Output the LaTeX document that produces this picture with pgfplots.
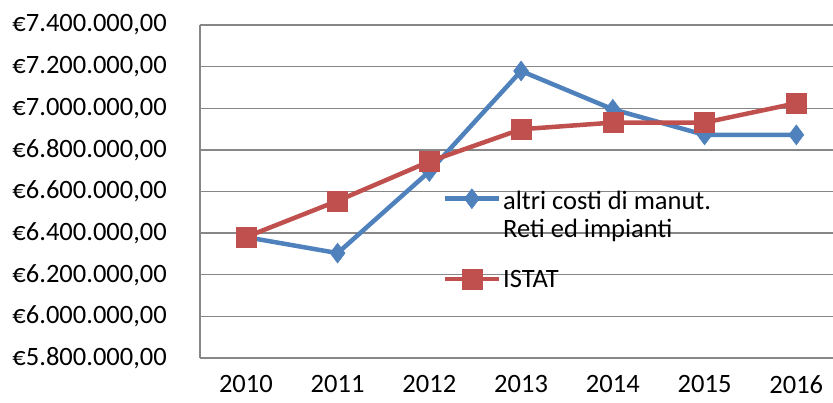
\documentclass[border=0pt]{standalone}
\usepackage{fontspec}
\setmainfont{Carlito}
\usepackage{pgfplots}
\pgfplotsset{compat=1.18}
\definecolor{serieblu}{HTML}{4F81BD}
\definecolor{serierossa}{HTML}{C0504D}
\definecolor{griglia}{HTML}{878787}
\newcommand{\grande}{\fontsize{26.5bp}{28.5bp}\selectfont}
\begin{document}
\begin{tikzpicture}
\path[use as bounding box] (-200bp,-45bp) rectangle (633bp,358bp);
\begin{axis}[
    at={(0,0)}, anchor=south west,
    scale only axis,
    width=633bp, height=333bp,
    xmin=-0.5, xmax=6.4,
    ymin=5800000, ymax=7400000,
    axis lines=left,
    axis line style={-, draw=griglia, line width=1.3bp},
    ymajorgrids,
    grid style={draw=griglia, line width=1.3bp},
    major tick length=0pt,
    scaled y ticks=false,
    xtick={0,1,2,3,4,5,6},
    xticklabels={2010,2011,2012,2013,2014,2015,2016},
    ytick={5800000,6000000,6200000,6400000,6600000,6800000,7000000,7200000,7400000},
    yticklabels={{€5.800.000,00},{€6.000.000,00},{€6.200.000,00},{€6.400.000,00},{€6.600.000,00},{€6.800.000,00},{€7.000.000,00},{€7.200.000,00},{€7.400.000,00}},
    tick label style={font=\grande, inner sep=0pt},
    yticklabel style={anchor=east, xshift=-33bp},
    xticklabel style={anchor=north, yshift=-17bp},
    clip=false,
    legend style={at={(0.383,0.509)}, anchor=north west, draw=none, fill=none,
        font=\grande, row sep=27bp, inner sep=0pt,
        cells={anchor=base west, align=left},
        /tikz/every even column/.append style={column sep=5bp}},
]
% altri costi di manut. reti ed impianti (simbolo alla prima riga del testo)
\addplot[serieblu, line width=4.5bp, mark=diamond*, mark size=10bp,
    mark options={solid, fill=serieblu, draw=serieblu, line width=0.5bp},
    legend image code/.code={\draw[mark repeat=2, mark phase=2, yshift=39bp]
        plot coordinates {(0bp,0bp)(27bp,0bp)(54bp,0bp)};}]
coordinates {(0,6381000) (1,6304000) (2,6696000) (3,7179000) (4,6995000) (5,6872000) (6,6872000)};
\addlegendentry{altri costi di manut.\\Reti ed impianti}
% ISTAT
\addplot[serierossa, line width=4.5bp, mark=square*, mark size=10bp,
    mark options={solid, fill=serierossa, draw=serierossa, line width=0.5bp},
    legend image code/.code={\draw[mark repeat=2, mark phase=2, yshift=8.5bp]
        plot coordinates {(0bp,0bp)(27bp,0bp)(54bp,0bp)};}]
coordinates {(0,6381000) (1,6555000) (2,6744000) (3,6899000) (4,6931000) (5,6931000) (6,7024000)};
\addlegendentry{ISTAT}
\end{axis}
\end{tikzpicture}
\end{document}
